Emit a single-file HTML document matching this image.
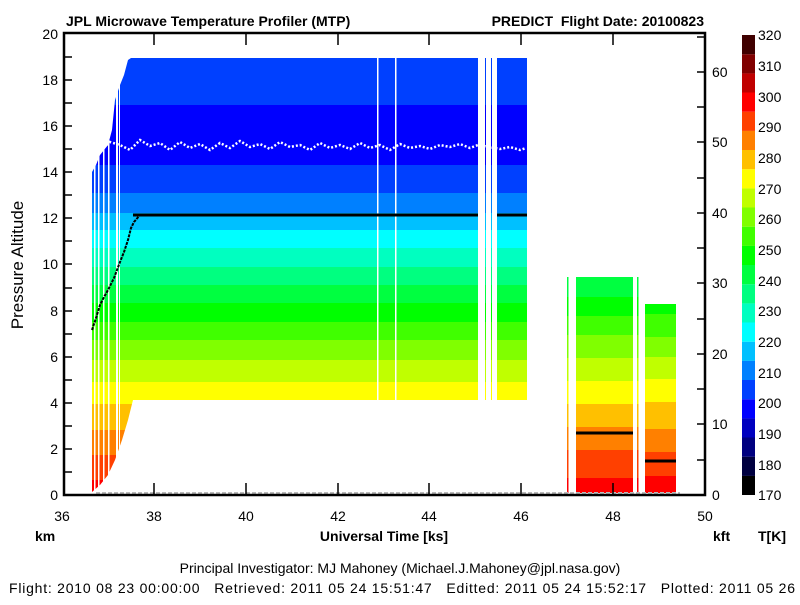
<!DOCTYPE html>
<html><head><style>
body{margin:0;background:#fff;}
svg text{font-family:"Liberation Sans",Arial,sans-serif;}
</style></head><body>
<svg width="800" height="600" viewBox="0 0 800 600" xmlns="http://www.w3.org/2000/svg">
<rect width="800" height="600" fill="#fff"/>
<defs>
<clipPath id="mainclip">
<polygon points="92,172 96,165 100,155 104,150 108,145 112,130 115,100 120,85 124,75 128,60 131,58 527,58 527,400 133,400 128,420 122,440 115,460 108,475 100,485 92,492"/>
</clipPath>
<clipPath id="rclip">
<rect x="567" y="277" width="1.5" height="216"/>
<rect x="637" y="277" width="1.5" height="216"/>
<rect x="576" y="277" width="57" height="216"/>
</clipPath>
</defs>
<g clip-path="url(#mainclip)">
<rect x="90" y="58" width="440" height="47" fill="#0040ff"/>
<rect x="90" y="105" width="440" height="60" fill="#0000ff"/>
<rect x="90" y="165" width="440" height="28" fill="#0040ff"/>
<rect x="90" y="193" width="440" height="20" fill="#0080ff"/>
<rect x="90" y="213" width="440" height="17" fill="#00c0ff"/>
<rect x="90" y="230" width="440" height="18" fill="#00ffff"/>
<rect x="90" y="248" width="440" height="19" fill="#00ffc0"/>
<rect x="90" y="267" width="440" height="18" fill="#00ff80"/>
<rect x="90" y="285" width="440" height="18" fill="#00ff40"/>
<rect x="90" y="303" width="440" height="19" fill="#00ff00"/>
<rect x="90" y="322" width="440" height="18" fill="#40ff00"/>
<rect x="90" y="340" width="440" height="20" fill="#80ff00"/>
<rect x="90" y="360" width="440" height="22" fill="#c0ff00"/>
<rect x="90" y="382" width="440" height="22" fill="#ffff00"/>
<rect x="90" y="404" width="440" height="26" fill="#ffc000"/>
<rect x="90" y="430" width="440" height="25" fill="#ff8000"/>
<rect x="90" y="455" width="440" height="25" fill="#ff4000"/>
<rect x="90" y="480" width="440" height="15" fill="#ff0000"/>
</g>
<!-- white gaps -->
<g fill="#fff">
<rect x="94" y="140" width="1.5" height="360"/>
<rect x="98" y="140" width="1.5" height="360"/>
<rect x="103" y="140" width="1.5" height="360"/>
<rect x="108" y="140" width="1.5" height="360"/>
<rect x="116" y="80" width="2" height="420"/>
<rect x="119" y="80" width="1" height="420"/>
<rect x="377" y="55" width="1.5" height="350"/>
<rect x="395" y="55" width="1.5" height="350"/>
<rect x="478" y="55" width="7" height="350"/>
<rect x="486" y="55" width="5" height="350"/>
<rect x="492" y="55" width="5" height="350"/>
</g>
<!-- white dots noise line -->
<polyline points="100,150 110,142 120,145 130,150 140,140 150,146 160,143 170,150 180,142 190,148 200,144 210,150 220,143 230,148 240,141 250,147 260,144 270,149 280,142 290,147 300,145 310,150 320,143 330,148 340,145 350,149 360,143 370,148 380,145 390,150 400,144 410,148 420,146 430,149 440,145 450,147 460,144 470,148 478,145 500,149 510,147 520,150 526,148" fill="none" stroke="#fff" stroke-width="2.5" stroke-dasharray="2,2"/>
<!-- right blocks -->
<g clip-path="url(#rclip)">
<rect x="560" y="277" width="80" height="20" fill="#00ff40"/>
<rect x="560" y="297" width="80" height="19" fill="#00ff00"/>
<rect x="560" y="316" width="80" height="19" fill="#40ff00"/>
<rect x="560" y="335" width="80" height="23" fill="#80ff00"/>
<rect x="560" y="358" width="80" height="23" fill="#c0ff00"/>
<rect x="560" y="381" width="80" height="23" fill="#ffff00"/>
<rect x="560" y="404" width="80" height="23" fill="#ffc000"/>
<rect x="560" y="427" width="80" height="23" fill="#ff8000"/>
<rect x="560" y="450" width="80" height="28" fill="#ff4000"/>
<rect x="560" y="478" width="80" height="15" fill="#ff0000"/>
</g>
<g>
<rect x="645" y="304" width="31" height="10" fill="#00ff00"/>
<rect x="645" y="314" width="31" height="23" fill="#40ff00"/>
<rect x="645" y="337" width="31" height="20" fill="#80ff00"/>
<rect x="645" y="357" width="31" height="22" fill="#c0ff00"/>
<rect x="645" y="379" width="31" height="23" fill="#ffff00"/>
<rect x="645" y="402" width="31" height="27" fill="#ffc000"/>
<rect x="645" y="429" width="31" height="23" fill="#ff8000"/>
<rect x="645" y="452" width="31" height="24" fill="#ff4000"/>
<rect x="645" y="476" width="31" height="17" fill="#ff0000"/>
</g>
<!-- black altitude line -->
<polyline points="92,330 96,318 100,305 104,297 108,290 114,278 120,262 124,252 128,240 131,228 134,222 140,215 478,215" fill="none" stroke="#000" stroke-width="2" stroke-dasharray="3,1"/>
<line x1="133" y1="215" x2="478" y2="215" stroke="#000" stroke-width="3"/>
<line x1="497" y1="215" x2="527" y2="215" stroke="#000" stroke-width="3"/>
<line x1="576" y1="433" x2="633" y2="433" stroke="#000" stroke-width="3"/>
<line x1="645" y1="461" x2="676" y2="461" stroke="#000" stroke-width="3"/>
<!-- gray noise bottom -->
<line x1="96" y1="493" x2="680" y2="493" stroke="#bbb" stroke-width="2" stroke-dasharray="4,2"/>
<!-- frame -->
<rect x="64" y="33" width="641" height="462" fill="none" stroke="#000" stroke-width="2.5"/>
<g stroke="#000" stroke-width="1.5">
<line x1="64" y1="472" x2="72" y2="472"/><line x1="64" y1="449" x2="72" y2="449"/><line x1="64" y1="426" x2="72" y2="426"/><line x1="64" y1="403" x2="72" y2="403"/><line x1="64" y1="380" x2="72" y2="380"/><line x1="64" y1="357" x2="72" y2="357"/><line x1="64" y1="334" x2="72" y2="334"/><line x1="64" y1="311" x2="72" y2="311"/><line x1="64" y1="288" x2="72" y2="288"/><line x1="64" y1="264" x2="72" y2="264"/><line x1="64" y1="241" x2="72" y2="241"/><line x1="64" y1="218" x2="72" y2="218"/><line x1="64" y1="195" x2="72" y2="195"/><line x1="64" y1="172" x2="72" y2="172"/><line x1="64" y1="149" x2="72" y2="149"/><line x1="64" y1="126" x2="72" y2="126"/><line x1="64" y1="103" x2="72" y2="103"/><line x1="64" y1="80" x2="72" y2="80"/><line x1="64" y1="57" x2="72" y2="57"/>
<line x1="154" y1="495" x2="154" y2="483"/><line x1="246" y1="495" x2="246" y2="483"/><line x1="338" y1="495" x2="338" y2="483"/><line x1="429" y1="495" x2="429" y2="483"/><line x1="521" y1="495" x2="521" y2="483"/><line x1="613" y1="495" x2="613" y2="483"/>
<line x1="154" y1="33" x2="154" y2="45"/><line x1="246" y1="33" x2="246" y2="45"/><line x1="338" y1="33" x2="338" y2="45"/><line x1="429" y1="33" x2="429" y2="45"/><line x1="521" y1="33" x2="521" y2="45"/><line x1="613" y1="33" x2="613" y2="45"/>
<line x1="705" y1="460" x2="697" y2="460"/><line x1="705" y1="424" x2="697" y2="424"/><line x1="705" y1="389" x2="697" y2="389"/><line x1="705" y1="354" x2="697" y2="354"/><line x1="705" y1="319" x2="697" y2="319"/><line x1="705" y1="283" x2="697" y2="283"/><line x1="705" y1="248" x2="697" y2="248"/><line x1="705" y1="213" x2="697" y2="213"/><line x1="705" y1="178" x2="697" y2="178"/><line x1="705" y1="142" x2="697" y2="142"/><line x1="705" y1="107" x2="697" y2="107"/><line x1="705" y1="72" x2="697" y2="72"/><line x1="705" y1="37" x2="697" y2="37"/>
</g>
<g font-size="14" fill="#000">
<text x="58" y="500" text-anchor="end">0</text><text x="58" y="454" text-anchor="end">2</text><text x="58" y="408" text-anchor="end">4</text><text x="58" y="362" text-anchor="end">6</text><text x="58" y="316" text-anchor="end">8</text><text x="58" y="269" text-anchor="end">10</text><text x="58" y="223" text-anchor="end">12</text><text x="58" y="177" text-anchor="end">14</text><text x="58" y="131" text-anchor="end">16</text><text x="58" y="85" text-anchor="end">18</text><text x="58" y="39" text-anchor="end">20</text>
<text x="62" y="521" text-anchor="middle">36</text><text x="154" y="521" text-anchor="middle">38</text><text x="246" y="521" text-anchor="middle">40</text><text x="338" y="521" text-anchor="middle">42</text><text x="429" y="521" text-anchor="middle">44</text><text x="521" y="521" text-anchor="middle">46</text><text x="613" y="521" text-anchor="middle">48</text><text x="705" y="521" text-anchor="middle">50</text>
<text x="712" y="500">0</text><text x="712" y="429">10</text><text x="712" y="359">20</text><text x="712" y="288">30</text><text x="712" y="218">40</text><text x="712" y="147">50</text><text x="712" y="77">60</text>
</g>
<!-- colorbar -->
<g>
<rect x="742" y="475.8" width="13" height="19.2" fill="#000000"/>
<rect x="742" y="456.7" width="13" height="19.2" fill="#000040"/>
<rect x="742" y="437.5" width="13" height="19.2" fill="#000080"/>
<rect x="742" y="418.3" width="13" height="19.2" fill="#0000c0"/>
<rect x="742" y="399.2" width="13" height="19.2" fill="#0000ff"/>
<rect x="742" y="380" width="13" height="19.2" fill="#0040ff"/>
<rect x="742" y="360.8" width="13" height="19.2" fill="#0080ff"/>
<rect x="742" y="341.7" width="13" height="19.2" fill="#00c0ff"/>
<rect x="742" y="322.5" width="13" height="19.2" fill="#00ffff"/>
<rect x="742" y="303.3" width="13" height="19.2" fill="#00ffc0"/>
<rect x="742" y="284.2" width="13" height="19.2" fill="#00ff80"/>
<rect x="742" y="265" width="13" height="19.2" fill="#00ff40"/>
<rect x="742" y="245.8" width="13" height="19.2" fill="#00ff00"/>
<rect x="742" y="226.7" width="13" height="19.2" fill="#40ff00"/>
<rect x="742" y="207.5" width="13" height="19.2" fill="#80ff00"/>
<rect x="742" y="188.3" width="13" height="19.2" fill="#c0ff00"/>
<rect x="742" y="169.2" width="13" height="19.2" fill="#ffff00"/>
<rect x="742" y="150" width="13" height="19.2" fill="#ffc000"/>
<rect x="742" y="130.8" width="13" height="19.2" fill="#ff8000"/>
<rect x="742" y="111.7" width="13" height="19.2" fill="#ff4000"/>
<rect x="742" y="92.5" width="13" height="19.2" fill="#ff0000"/>
<rect x="742" y="73.3" width="13" height="19.2" fill="#c00000"/>
<rect x="742" y="54.2" width="13" height="19.2" fill="#800000"/>
<rect x="742" y="35" width="13" height="19.2" fill="#400000"/>
</g>
<g font-size="14" fill="#000">
<text x="758" y="500">170</text><text x="758" y="470">180</text><text x="758" y="439">190</text><text x="758" y="408">200</text><text x="758" y="378">210</text><text x="758" y="347">220</text><text x="758" y="316">230</text><text x="758" y="286">240</text><text x="758" y="255">250</text><text x="758" y="224">260</text><text x="758" y="194">270</text><text x="758" y="163">280</text><text x="758" y="132">290</text><text x="758" y="102">300</text><text x="758" y="71">310</text><text x="758" y="40">320</text>
</g>
<g font-size="14" font-weight="bold" fill="#000">
<text x="66" y="26">JPL Microwave Temperature Profiler (MTP)</text>
<text x="704" y="26" text-anchor="end" xml:space="preserve">PREDICT  Flight Date: 20100823</text>
<text x="384" y="541" text-anchor="middle">Universal Time [ks]</text>
<text x="35" y="541">km</text>
<text x="713" y="541">kft</text>
<text x="758" y="541">T[K]</text>
</g>
<text x="23" y="265" font-size="17" text-anchor="middle" transform="rotate(-90 23 265)">Pressure Altitude</text>
<text x="400" y="573" font-size="14" text-anchor="middle">Principal Investigator: MJ Mahoney (Michael.J.Mahoney@jpl.nasa.gov)</text>
<text x="9" y="593" font-size="14" textLength="786" lengthAdjust="spacing" xml:space="preserve">Flight: 2010 08 23 00:00:00   Retrieved: 2011 05 24 15:51:47   Editted: 2011 05 24 15:52:17   Plotted: 2011 05 26</text>
</svg>
</body></html>
